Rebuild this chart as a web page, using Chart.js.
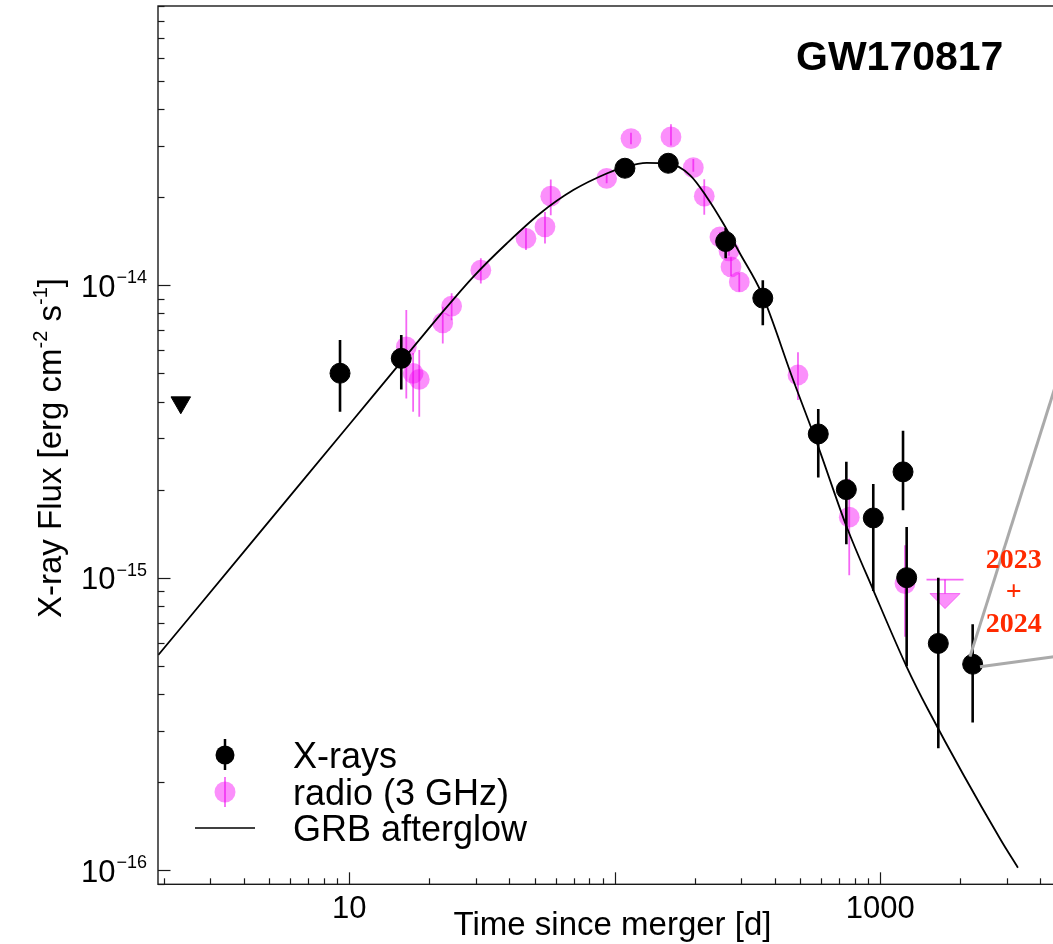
<!DOCTYPE html>
<html><head><meta charset="utf-8">
<script src="https://cdn.jsdelivr.net/npm/chart.js@4/dist/chart.umd.min.js"></script>
<style>
html,body{margin:0;padding:0;background:#fff;overflow:hidden;width:1053px;height:944px;}
#wrap{position:relative;width:1053px;height:944px;overflow:hidden;}
canvas{display:block;}
</style></head><body><div id="wrap"><canvas id="c" width="1160" height="944" style="width:1160px;height:944px"></canvas></div>
<script>
// ---------------- data ----------------
const xrayDays   = [9.23, 15.7, 109.2, 159, 261.6, 361, 584, 745, 941, 1218, 1257, 1654, 2228];
const xrayFlux   = [5.0e-15, 5.62e-15, 2.51e-14, 2.61e-14, 1.41e-14, 9.03e-15, 3.10e-15, 2.0e-15, 1.60e-15, 2.30e-15, 1.0e-15, 5.96e-16, 5.06e-16];
const xrayErrHi  = [6.49e-15, 6.75e-15, 2.64e-14, 2.74e-14, 1.567e-14, 1.04e-14, 3.77e-15, 2.49e-15, 2.09e-15, 3.18e-15, 1.49e-15, 1.0e-15, 6.93e-16];
const xrayErrLo  = [3.69e-15, 4.40e-15, 2.39e-14, 2.48e-14, 1.236e-14, 7.3e-15, 2.20e-15, 1.30e-15, 9.0e-16, 1.70e-15, 4.98e-16, 2.61e-16, 3.2e-16];

const xrayLimDays = [2.32];
const xrayLimFlux = [3.97e-15];

const radioDays  = [16.4, 17.4, 18.35, 22.5, 24.3, 31.3, 46.3, 54.6, 57.4, 93.2, 115.1, 162.8, 197.6, 217.3, 248.9, 269.3, 274, 294.4, 489.8, 764, 1239];
const radioFlux  = [6.15e-15, 4.99e-15, 4.76e-15, 7.43e-15, 8.48e-15, 1.125e-14, 1.444e-14, 1.582e-14, 2.014e-14, 2.316e-14, 3.17e-14, 3.21e-14, 2.52e-14, 2.014e-14, 1.462e-14, 1.31e-14, 1.155e-14, 1.026e-14, 4.93e-15, 1.61e-15, 9.55e-16];
const radioErrHi = [8.22e-15, 5.86e-15, 6.0e-15, 8.43e-15, 9.39e-15, 1.236e-14, 1.567e-14, 1.78e-14, 2.297e-14, 2.40e-14, 3.32e-14, 3.55e-14, 2.70e-14, 2.30e-14, 1.52e-14, 1.36e-14, 1.245e-14, 1.10e-14, 5.9e-15, 2.18e-15, 1.29e-15];
const radioErrLo = [4.10e-15, 3.69e-15, 3.55e-15, 6.32e-15, 7.59e-15, 1.013e-14, 1.318e-14, 1.388e-14, 1.734e-14, 2.23e-14, 3.03e-14, 3.0e-14, 2.44e-14, 1.74e-14, 1.40e-14, 1.26e-14, 1.075e-14, 9.5e-15, 4.05e-15, 1.02e-15, 6.28e-16];

const radioLimDays = [1753];
const radioLimFlux = [9.85e-16];

const modelDays = [1.909, 4.227, 10.06, 15.52, 21.96, 29.31, 39.16, 52.29, 69.79, 93.22, 109.2, 131.9, 159.0, 191.9, 221.9, 256.3, 296.2, 357.6, 470.2, 584.2, 747.0, 941.0, 1257, 1516, 2844, 3299];
const modelFlux = [5.44e-16, 1.299e-15, 3.36e-15, 5.40e-15, 7.90e-15, 1.068e-14, 1.388e-14, 1.758e-14, 2.113e-14, 2.408e-14, 2.536e-14, 2.618e-14, 2.606e-14, 2.377e-14, 2.003e-14, 1.625e-14, 1.283e-14, 9.37e-15, 4.73e-15, 2.80e-15, 1.493e-15, 9.07e-16, 4.96e-16, 3.53e-16, 1.268e-16, 1.020e-16];

const zoomLineADays = [2177, 6722];
const zoomLineAFlux = [5.37e-16, 1.374e-14];
const zoomLineBDays = [2374, 6722];
const zoomLineBFlux = [4.96e-16, 5.64e-16];

const xTickValues = [10, 1000];
const xTickLabels = ['10', '1000'];
const yTickValues = [1e-14, 1e-15, 1e-16];
const yTickExponents = ['\u221214', '\u221215', '\u221216'];

const xRange = [1.904, 10000];
const yRange = [8.95e-17, 9.0e-14];

const titleText = 'GW170817';
const xTitle = 'Time since merger [d]';
const yTitleParts = [['X-ray Flux [erg cm', false], ['-2', true], [' s', false], ['-1', true], [']', false]];
const noteLines = ['2023', '+', '2024'];

// ---------------- helpers ----------------
const SANS = '"Liberation Sans", Arial, Helvetica, sans-serif';
const SERIF = '"Liberation Serif", "Times New Roman", serif';
const toXY = (xs, ys) => xs.map((v, i) => ({x: v, y: ys[i]}));

const RADIO_FILL = 'rgba(245,0,245,0.44)';
const RADIO_LINE = 'rgba(238,0,238,0.6)';

function drawErrBars(chart, idx) {
  const ds = chart.data.datasets[idx];
  const xs = chart.scales.x, ys = chart.scales.y, ca = chart.chartArea;
  const ctx = chart.ctx;
  ctx.save();
  ctx.beginPath(); ctx.rect(ca.left, ca.top, ca.right - ca.left, ca.bottom - ca.top); ctx.clip();
  ctx.strokeStyle = ds.errColor; ctx.lineWidth = ds.errWidth; ctx.lineCap = 'butt';
  ds.data.forEach((p, i) => {
    const px = xs.getPixelForValue(p.x);
    ctx.beginPath();
    ctx.moveTo(px, ys.getPixelForValue(ds.errHi[i]));
    ctx.lineTo(px, ys.getPixelForValue(ds.errLo[i]));
    ctx.stroke();
  });
  ctx.restore();
}

function drawRadioLimit(chart, idx) {
  const ds = chart.data.datasets[idx];
  const xs = chart.scales.x, ys = chart.scales.y, ctx = chart.ctx;
  ds.data.forEach(p => {
    const px = xs.getPixelForValue(p.x), py = ys.getPixelForValue(p.y);
    ctx.save();
    ctx.strokeStyle = RADIO_LINE; ctx.lineWidth = 1.8;
    ctx.beginPath(); ctx.moveTo(px - 18.5, py); ctx.lineTo(px + 18.5, py); ctx.stroke();
    ctx.beginPath(); ctx.moveTo(px, py); ctx.lineTo(px, py + 14); ctx.stroke();
    ctx.fillStyle = RADIO_FILL;
    ctx.beginPath(); ctx.moveTo(px - 15, py + 14); ctx.lineTo(px + 15, py + 14); ctx.lineTo(px, py + 29); ctx.closePath(); ctx.fill();
    ctx.strokeStyle = 'rgba(238,0,238,0.5)'; ctx.lineWidth = 1; ctx.stroke();
    ctx.restore();
  });
}

const customPlugin = {
  id: 'custom',
  beforeDatasetDraw(chart, args) {
    const ds = chart.data.datasets[args.index];
    if (ds.errHi && !ds.errOnTop) drawErrBars(chart, args.index);
  },
  afterDatasetDraw(chart, args) {
    const ds = chart.data.datasets[args.index];
    if (ds.errHi && ds.errOnTop) drawErrBars(chart, args.index);
    if (ds.radioLimit) drawRadioLimit(chart, args.index);
  },
  afterDraw(chart) {
    const ctx = chart.ctx, ca = chart.chartArea, xs = chart.scales.x, ys = chart.scales.y;
    ctx.save();
    // frame
    ctx.strokeStyle = '#1a1a1a'; ctx.lineWidth = 1.4;
    ctx.strokeRect(ca.left, ca.top, ca.right - ca.left, ca.bottom - ca.top);
    // x ticks (inside)
    ctx.lineWidth = 1.2;
    for (let e = 0; e <= 4; e++) {
      for (let k = 1; k <= 9; k++) {
        const v = k * Math.pow(10, e);
        if (v < xs.min || v > xs.max) continue;
        const px = Math.round(xs.getPixelForValue(v)) + 0.5;
        const len = k === 1 ? 12 : 6;
        ctx.beginPath(); ctx.moveTo(px, ca.bottom); ctx.lineTo(px, ca.bottom - len); ctx.stroke();
      }
    }
    // y ticks (inside)
    for (let e = -17; e <= -13; e++) {
      for (let k = 1; k <= 9; k++) {
        const v = k * Math.pow(10, e);
        if (v < ys.min || v > ys.max) continue;
        const py = Math.round(ys.getPixelForValue(v)) + 0.5;
        const len = k === 1 ? 12.5 : 6.5;
        ctx.beginPath(); ctx.moveTo(ca.left, py); ctx.lineTo(ca.left + len, py); ctx.stroke();
      }
    }
    // x tick labels
    ctx.fillStyle = '#000';
    ctx.font = '31px ' + SANS; ctx.textAlign = 'center'; ctx.textBaseline = 'alphabetic';
    xTickValues.forEach((v, i) => ctx.fillText(xTickLabels[i], xs.getPixelForValue(v), 918));
    // y tick labels 10^exp
    yTickValues.forEach((v, i) => {
      const py = ys.getPixelForValue(v);
      ctx.font = '31px ' + SANS; ctx.textAlign = 'right';
      ctx.fillText('10', 115.5, py + 11.5);
      ctx.font = '18px ' + SANS; ctx.textAlign = 'left';
      ctx.fillText(yTickExponents[i], 116.5, py - 2);
    });
    // x title
    ctx.font = '33px ' + SANS; ctx.textAlign = 'center';
    ctx.fillText(xTitle, 612.5, 935);
    // y title (rotated, with superscripts)
    ctx.save();
    ctx.translate(61, 448); ctx.rotate(-Math.PI / 2);
    ctx.textAlign = 'left';
    let total = 0;
    yTitleParts.forEach(([t, sup]) => { ctx.font = (sup ? '20px ' : '33px ') + SANS; total += ctx.measureText(t).width; });
    let cx = -total / 2;
    yTitleParts.forEach(([t, sup]) => {
      ctx.font = (sup ? '20px ' : '33px ') + SANS;
      ctx.fillText(t, cx, sup ? -14 : 0);
      cx += ctx.measureText(t).width;
    });
    ctx.restore();
    // title
    ctx.font = 'bold 41px ' + SANS; ctx.textAlign = 'left';
    ctx.fillText(titleText, 796, 69.5);
    // red note
    ctx.fillStyle = '#ff2a00'; ctx.font = 'bold 28px ' + SERIF; ctx.textAlign = 'center';
    ctx.fillText(noteLines[0], 1013.8, 568);
    ctx.fillText(noteLines[1], 1013.8, 600);
    ctx.fillText(noteLines[2], 1013.8, 632);
    // legend
    const ds = chart.data.datasets;
    const mx = 225;
    ctx.fillStyle = '#000'; ctx.strokeStyle = '#000'; ctx.lineWidth = 2.5;
    ctx.beginPath(); ctx.moveTo(mx, 739); ctx.lineTo(mx, 770); ctx.stroke();
    ctx.beginPath(); ctx.arc(mx, 755, 9.5, 0, Math.PI * 2); ctx.fill();
    ctx.fillStyle = RADIO_FILL;
    ctx.beginPath(); ctx.arc(mx, 792, 10.5, 0, Math.PI * 2); ctx.fill();
    ctx.strokeStyle = RADIO_LINE; ctx.lineWidth = 1.8;
    ctx.beginPath(); ctx.moveTo(mx, 777); ctx.lineTo(mx, 807); ctx.stroke();
    ctx.strokeStyle = '#000'; ctx.lineWidth = 1.6;
    ctx.beginPath(); ctx.moveTo(195, 828); ctx.lineTo(255, 828); ctx.stroke();
    ctx.fillStyle = '#000'; ctx.font = '36px ' + SANS; ctx.textAlign = 'left';
    ctx.fillText(ds[0].label, 293, 767.5);
    ctx.fillText(ds[2].label, 293, 805);
    ctx.fillText(ds[4].label, 293, 841);
    ctx.restore();
  }
};

new Chart(document.getElementById('c'), {
  type: 'scatter',
  data: {
    datasets: [
      { label: 'X-rays', data: toXY(xrayDays, xrayFlux), errHi: xrayErrHi, errLo: xrayErrLo,
        errColor: '#000', errWidth: 2.6, errOnTop: false,
        pointRadius: 10, pointBackgroundColor: '#000', pointBorderColor: '#000', pointBorderWidth: 1, order: 1 },
      { label: 'X-ray limit', data: toXY(xrayLimDays, xrayLimFlux), pointStyle: 'triangle', rotation: 180,
        pointRadius: 11.3, pointBackgroundColor: '#000', pointBorderColor: '#000', pointBorderWidth: 1, order: 1 },
      { label: 'radio (3 GHz)', data: toXY(radioDays, radioFlux), errHi: radioErrHi, errLo: radioErrLo,
        errColor: RADIO_LINE, errWidth: 1.8, errOnTop: true,
        pointRadius: 10.4, pointBackgroundColor: RADIO_FILL, pointBorderWidth: 0, order: 4 },
      { label: 'radio limit', data: toXY(radioLimDays, radioLimFlux), radioLimit: true, pointRadius: 0, order: 4 },
      { label: 'GRB afterglow', type: 'line', data: toXY(modelDays, modelFlux), borderColor: '#000',
        borderWidth: 1.8, pointRadius: 0, fill: false, cubicInterpolationMode: 'monotone', order: 3 },
      { label: 'zoom A', type: 'line', data: toXY(zoomLineADays, zoomLineAFlux), borderColor: '#aaaaaa',
        borderWidth: 3, pointRadius: 0, fill: false, order: 0 },
      { label: 'zoom B', type: 'line', data: toXY(zoomLineBDays, zoomLineBFlux), borderColor: '#aaaaaa',
        borderWidth: 3, pointRadius: 0, fill: false, order: 0 }
    ]
  },
  options: {
    responsive: false, animation: false, devicePixelRatio: 1, events: [],
    layout: { autoPadding: false, padding: { left: 158, top: 6, right: 14.2, bottom: 59.7 } },
    plugins: { legend: { display: false }, tooltip: { enabled: false } },
    scales: {
      x: { type: 'logarithmic', min: xRange[0], max: xRange[1], display: false },
      y: { type: 'logarithmic', min: yRange[0], max: yRange[1], display: false }
    }
  },
  plugins: [customPlugin]
});
</script></body></html>
